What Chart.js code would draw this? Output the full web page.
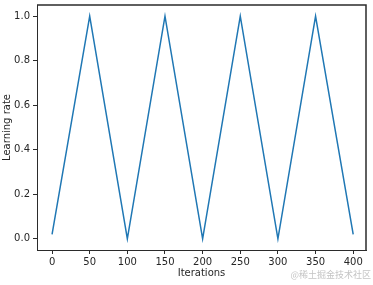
<!DOCTYPE html>
<html>
<head>
<meta charset="utf-8">
<script src="https://cdn.jsdelivr.net/npm/chart.js@4/dist/chart.umd.min.js"></script>
<style>
  html, body { margin: 0; padding: 0; background: #fff; }
  #wrap { width: 373px; height: 285px; }
</style>
</head>
<body>
<div id="wrap"><canvas id="myChart" width="373" height="285"></canvas></div>
<script>
// triangular cyclic learning rate
const iterations = [0, 50, 100, 150, 200, 250, 300, 350, 400];
const learningRate = [0.02, 1.0, 0.0, 1.0, 0.0, 1.0, 0.0, 1.0, 0.02];
const xTicks = [0, 50, 100, 150, 200, 250, 300, 350, 400];
const yTicks = [0.0, 0.2, 0.4, 0.6, 0.8, 1.0];

const points = iterations.map((it, i) => ({ x: it, y: learningRate[i] }));

const tickFont = { family: 'DejaVu Sans', size: 10 };
const textColor = '#262626';
const frameColor = '#2b2b2b';

// top and right spines, drawn like the red test that showed up
const framePlugin = {
  id: 'frame',
  afterDraw(chart) {
    const { ctx, chartArea: a } = chart;
    ctx.save();
    ctx.strokeStyle = frameColor;
    ctx.lineWidth = 1.5;
    ctx.beginPath();
    ctx.moveTo(a.left, a.top);
    ctx.lineTo(a.right, a.top);
    ctx.lineTo(a.right, a.bottom);
    ctx.stroke();
    ctx.fillStyle = '#c4c4c4';
    ctx.font = '9px "Noto Sans CJK SC"';
    ctx.textAlign = 'right';
    ctx.textBaseline = 'middle';
    ctx.fillText('@稀土掘金技术社区', 371, 275);
    ctx.restore();
  }
};

var ctx = document.getElementById('myChart').getContext('2d');
var myChart = new Chart(ctx, {
  type: 'line',
  data: {
    datasets: [{
      data: points,
      borderColor: '#1f77b4',
      borderWidth: 1.5,
      pointRadius: 0,
      tension: 0,
      fill: false
    }]
  },
  options: {
    responsive: false,
    animation: false,
    layout: {
      padding: { top: 5, right: 7, left: 0, bottom: 0 }
    },
    plugins: {
      legend: { display: false },
      tooltip: { enabled: false }
    },
    scales: {
      x: {
        type: 'linear',
        min: -20,
        max: 417,
        afterFit(scale) {
          scale.height = 35;
          scale.paddingLeft = 0;
          scale.paddingRight = 0;
        },
        afterBuildTicks(scale) { scale.ticks = xTicks.map(v => ({ value: v })); },
        ticks: {
          font: tickFont,
          color: textColor,
          padding: 2,
          maxRotation: 0,
          callback: v => String(v)
        },
        grid: {
          drawOnChartArea: false,
          tickLength: 4,
          tickColor: frameColor
        },
        border: { color: frameColor },
        title: {
          display: true,
          text: 'Iterations',
          font: tickFont,
          color: textColor,
          padding: { top: 0, bottom: 6 }
        }
      },
      y: {
        type: 'linear',
        min: -0.05,
        max: 1.05,
        afterFit(scale) {
          scale.width = 37;
          scale.paddingTop = 0;
          scale.paddingBottom = 0;
        },
        afterBuildTicks(scale) { scale.ticks = yTicks.map(v => ({ value: v })); },
        ticks: {
          font: tickFont,
          color: textColor,
          padding: 3,
          callback: v => Number(v).toFixed(1)
        },
        grid: {
          drawOnChartArea: false,
          tickLength: 4,
          tickColor: frameColor
        },
        border: { color: frameColor },
        title: {
          display: true,
          text: 'Learning rate',
          font: tickFont,
          color: textColor,
          padding: { top: 1, bottom: 0 }
        }
      }
    }
  },
  plugins: [framePlugin]
});
</script>
</body>
</html>
